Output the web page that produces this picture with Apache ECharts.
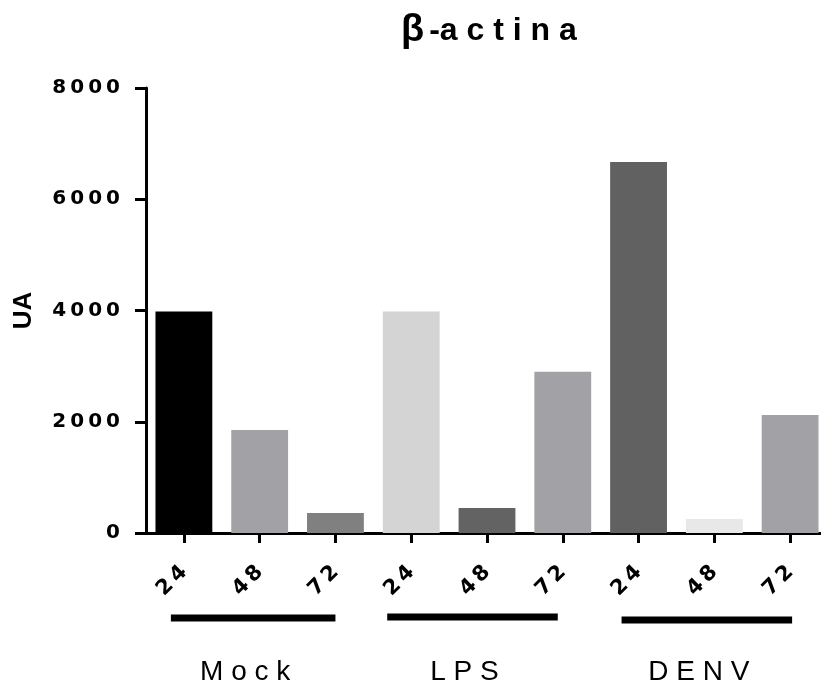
<!DOCTYPE html>
<html>
<head>
<meta charset="utf-8">
<script src="https://cdn.jsdelivr.net/npm/echarts@6/dist/echarts.min.js"></script>
<style>
  html, body { margin: 0; padding: 0; background: #ffffff; }
  #chart { width: 821px; height: 692px; }
</style>
</head>
<body>
<div id="chart"></div>
<script>
// β-actina levels (UA) per treatment and time point (h)
const timePoints = ['24', '48', '72'];
const groups = ['Mock', 'LPS', 'DENV'];
const mockUA = [3980, 1850, 360];
const lpsUA = [3980, 450, 2900];
const denvUA = [6670, 250, 2120];
const yTicks = [0, 2000, 4000, 6000, 8000];
const barColors = ['#000000', '#a2a1a6', '#808080',
                   '#d4d4d4', '#636363', '#a2a1a6',
                   '#616161', '#e8e8e8', '#a2a1a6'];

const FONT = 'Liberation Sans, Arial, Helvetica, sans-serif';
const WIDE = 'DejaVu Sans, Verdana, sans-serif';
const spaced = s => s.split('').join(' ');
const thin = s => s.split('').join('\u2009');

const seriesByGroup = [mockUA, lpsUA, denvUA];
const categories = [];
const values = [];
groups.forEach((g, gi) => {
  timePoints.forEach((t, ti) => {
    categories.push(g + '|' + t);
    values.push({ value: seriesByGroup[gi][ti], itemStyle: { color: barColors[categories.length - 1] } });
  });
});

const chart = echarts.init(document.getElementById('chart'), null, { renderer: 'canvas' });

const option = {
  animation: false,
  backgroundColor: '#ffffff',
  title: {
    text: '{b|β}{t|-a c t i n a}',
    left: 396,
    top: 4,
    textStyle: {
      rich: {
        b: { fontFamily: FONT, fontSize: 38, fontWeight: 900, color: '#000', lineHeight: 44 },
        t: { fontFamily: FONT, fontSize: 32, fontWeight: 'bold', color: '#000', lineHeight: 44, padding: [0, 0, 0, 5] }
      }
    }
  },
  // the last category runs past the right edge of the canvas
  grid: { left: 146, top: 88, width: 682, bottom: 159, containLabel: false, outerBoundsMode: 'none' },
  xAxis: {
    type: 'category',
    data: categories,
    boundaryGap: true,
    axisLine: { show: true, lineStyle: { color: '#000', width: 3 } },
    axisTick: { show: true, alignWithLabel: true, length: 10, lineStyle: { color: '#000', width: 3 } },
    axisLabel: {
      rotate: 45,
      margin: 36,
      interval: 0,
      color: '#000',
      fontFamily: WIDE,
      fontSize: 21,
      fontWeight: 'bold',
      formatter: v => thin(v.split('|')[1])
    },
    splitLine: { show: false }
  },
  yAxis: {
    type: 'value',
    min: yTicks[0],
    max: yTicks[yTicks.length - 1],
    interval: yTicks[1] - yTicks[0],
    name: 'UA',
    nameLocation: 'middle',
    nameGap: 109,
    nameRotate: 90,
    nameTextStyle: { color: '#000', fontFamily: FONT, fontSize: 26, fontWeight: 'bold' },
    axisLine: { show: true, lineStyle: { color: '#000', width: 3 } },
    axisTick: { show: true, length: 11, lineStyle: { color: '#000', width: 3 } },
    axisLabel: {
      margin: 26,
      color: '#000',
      fontFamily: WIDE,
      fontSize: 20,
      fontWeight: 'bold',
      formatter: v => thin(String(v))
    },
    splitLine: { show: false }
  },
  series: [{
    type: 'bar',
    data: values,
    barCategoryGap: '25%',
    itemStyle: { borderWidth: 0 }
  }]
};

chart.setOption(option);

// group brackets and names under the time-point labels
const bracketInset = [[13, 0], [24, -5], [17, 2]];
const bracketY = [618, 617, 620];
const graphics = [];
groups.forEach((g, gi) => {
  const first = chart.convertToPixel({ xAxisIndex: 0 }, gi * 3);
  const last = chart.convertToPixel({ xAxisIndex: 0 }, gi * 3 + 2);
  const x1 = first - bracketInset[gi][0];
  const x2 = last + bracketInset[gi][1];
  graphics.push({
    type: 'line',
    shape: { x1: x1, y1: bracketY[gi], x2: x2, y2: bracketY[gi] },
    style: { stroke: '#000', lineWidth: 7 }
  });
  graphics.push({
    type: 'text',
    x: (x1 + x2) / 2 - 8,
    y: 672,
    style: {
      text: spaced(g),
      fontFamily: FONT,
      fontSize: 28,
      fontWeight: 'normal',
      fill: '#000',
      textAlign: 'center',
      textVerticalAlign: 'middle'
    }
  });
});
chart.setOption({ graphic: graphics });
</script>
</body>
</html>
